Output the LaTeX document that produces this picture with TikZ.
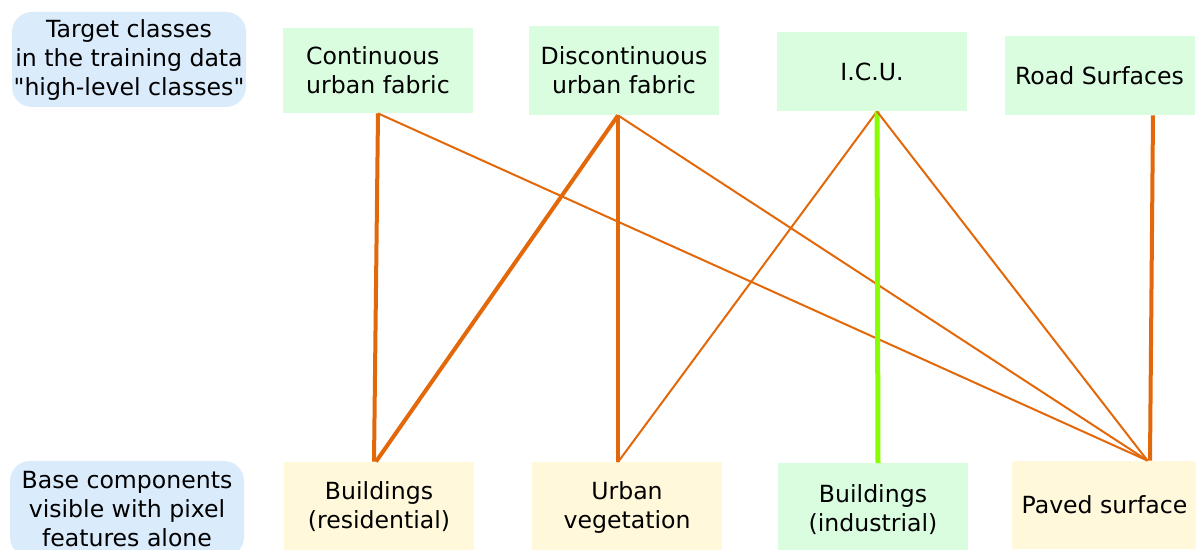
\documentclass[tikz,border=0pt]{standalone}
\usepackage{fontspec}
\setmainfont{DejaVu Sans}
\usepackage{tikz}
\usepackage{color}

\definecolor{highfill}{HTML}{DAFDE0}
\definecolor{basefill}{HTML}{FFF8DA}
\definecolor{tagfill}{HTML}{DAEBFC}
\definecolor{linkorange}{HTML}{E2680A}
\definecolor{linkgreen}{HTML}{88FF00}

% straight double quote, past the TeX ligature mapping
\newcommand{\straightquote}{\XeTeXglyph\XeTeXcharglyph"22\relax}

\begin{document}
\begin{tikzpicture}[x=0.5pt,y=-0.5pt]
    % Define style for the boxes, tags and links
    \tikzstyle{box} = [rectangle, minimum width=95pt, inner sep=0pt, text centered, font=\fontsize{11.8}{14.5}\selectfont]
    \tikzstyle{highbox} = [box, fill=highfill]
    \tikzstyle{basebox} = [box, fill=basefill]
    \tikzstyle{tag} = [rectangle, rounded corners=10pt, minimum width=117pt, inner sep=0pt, fill=tagfill, align=center, font=\fontsize{11.8}{14.5}\selectfont]
    \tikzstyle{link} = [draw=linkorange, line width=1pt]
    \tikzstyle{strong} = [draw=linkorange, line width=2pt]

    \useasboundingbox (0,0) rectangle (1196,550);

    % Draw the tags on the left
    \node[tag, minimum height=47.5pt] (target) at (129,59.5) {Target classes\\in the training data\\\straightquote high-level classes\straightquote};
    \node[tag, minimum height=48pt] (base) at (127,509) {Base components\\visible with pixel\\features alone};

    % Draw the high-level classes
    \node[highbox, minimum height=42.5pt, align=left] (cuf) at (378,70.5) {Continuous\\urban fabric};
    \node[highbox, minimum height=44.5pt, align=center] (duf) at (624,70.5) {Discontinuous\\urban fabric};
    \node[highbox, minimum height=39.5pt] (icu) at (872,71.5) {I.C.U.};
    \node[highbox, minimum height=39.5pt] (road) at (1099.5,75.5) {Road Surfaces};

    % Draw the base components
    \node[basebox, minimum height=45pt, align=center] (br) at (379,507) {Buildings\\(residential)};
    \node[basebox, minimum height=45pt, align=center] (uv) at (627,507.5) {Urban\\vegetation};
    \node[highbox, minimum height=46pt, align=center] (bi) at (873,509.5) {Buildings\\(industrial)};
    \node[basebox, minimum height=44pt, minimum width=92.5pt] (paved) at (1104.5,505) {Paved surface};

    % Draw the links between the two levels
    \draw[strong] (cuf.south) -- ([xshift=-2.5pt]br.north);
    \draw[link] (cuf.south) -- ([xshift=21.5pt]paved.north);
    \draw[strong] ([xshift=-3pt]duf.south) -- ([xshift=-1.5pt]br.north);
    \draw[strong] ([xshift=-3pt]duf.south) -- ([xshift=-4.5pt]uv.north);
    \draw[link] ([xshift=-3pt]duf.south) -- ([xshift=21.5pt]paved.north);
    \draw[link] ([xshift=2.5pt]icu.south) -- ([xshift=-4.5pt]uv.north);
    \draw[draw=linkgreen, line width=2.5pt] ([xshift=2.5pt]icu.south) -- ([xshift=2.5pt]bi.north);
    \draw[link] ([xshift=2.5pt]icu.south) -- ([xshift=21.5pt]paved.north);
    \draw[strong] ([xshift=26.75pt]road.south) -- ([xshift=22.75pt]paved.north);
\end{tikzpicture}
\end{document}
